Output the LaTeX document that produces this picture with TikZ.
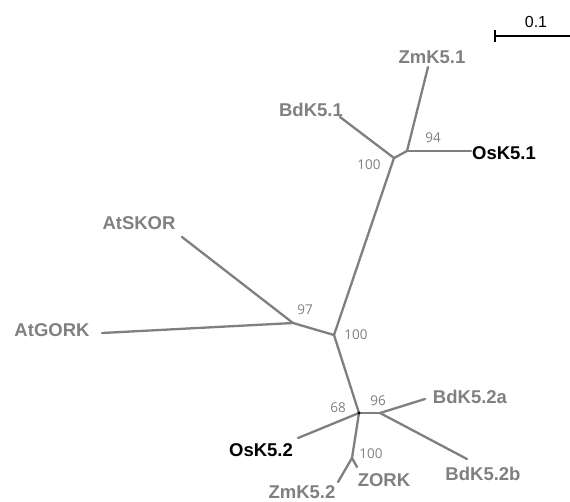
\documentclass[tikz,border=0pt]{standalone}
\usepackage{fontspec}
\setmainfont{Liberation Sans}
\newfontfamily\numfont{Open Sans}
\definecolor{branch}{HTML}{7F7F7F}
\definecolor{labgray}{HTML}{808080}
\begin{document}
\begin{tikzpicture}[x=1pt,y=-1pt,
  br/.style={draw=branch,line width=2.3pt,line cap=round},
  leaf/.style={font=\fontsize{18.5}{18.5}\selectfont\bfseries,text=labgray,inner sep=0pt,text height=13pt,text depth=0pt,anchor=center},
  leafb/.style={leaf,text=black},
  boot/.style={font=\numfont\fontsize{13.5}{13.5}\selectfont,text=labgray,inner sep=0pt,text height=9.5pt,text depth=0pt,anchor=center}]
\useasboundingbox (0,0) rectangle (570,501);
% internal nodes
\coordinate (A) at (394,158);
\coordinate (B) at (407,151);
\coordinate (C) at (293,323);
\coordinate (D) at (334,335);
\coordinate (E) at (359,413);
\coordinate (F) at (380,413);
\coordinate (G) at (352,458);
% leaf ends
\coordinate (zm1) at (428,67);
\coordinate (bd1) at (340,117);
\coordinate (os1) at (471,151);
\coordinate (skor) at (182,237);
\coordinate (gork) at (102,333);
\coordinate (bd2a) at (425,399);
\coordinate (bd2b) at (467,459);
\coordinate (os2) at (298,438);
\coordinate (zm2) at (338,482);
\coordinate (zork) at (357,467);
% branches
\draw[br] (A) -- (bd1);
\draw[br] (A) -- (B);
\draw[br] (B) -- (zm1);
\draw[br] (B) -- (os1);
\draw[br] (A) -- (D);
\draw[br] (D) -- (C);
\draw[br] (C) -- (skor);
\draw[br] (C) -- (gork);
\draw[br] (D) -- (E);
\draw[br] (E) -- (F);
\draw[br] (F) -- (bd2a);
\draw[br] (F) -- (bd2b);
\draw[br] (E) -- (os2);
\draw[br] (E) -- (G);
\draw[br] (G) -- (zm2);
\draw[br] (G) -- (zork);
\fill[black] (E) circle (1.6pt);
% leaf labels
\node[leaf] (lzm1) at (432,57) {ZmK5.1};
\node[leaf] (lbd1) at (311,110) {BdK5.1};
\node[leafb] (los1) at (504,153) {OsK5.1};
\node[leaf] (lskor) at (139,223) {AtSKOR};
\node[leaf] (lgork) at (52,330) {AtGORK};
\node[leaf] (lbd2a) at (470,397) {BdK5.2a};
\node[leaf] (lbd2b) at (483,474) {BdK5.2b};
\node[leafb] (los2) at (261,450) {OsK5.2};
\node[leaf] (lzork) at (384,480) {ZORK};
\node[leaf] (lzm2) at (302,492) {ZmK5.2};
% bootstrap values
\node[boot] (b94) at (433,138) {94};
\node[boot] (b100a) at (369,165) {100};
\node[boot] (b97) at (305,310) {97};
\node[boot] (b100b) at (356,335) {100};
\node[boot] (b68) at (338,408) {68};
\node[boot] (b96) at (378,401) {96};
\node[boot] (b100c) at (371,454) {100};
% scale bar
\coordinate (s1) at (495,36);
\coordinate (s2) at (570,36);
\coordinate (t1) at (495,30);
\coordinate (t2) at (495,42);
\draw[black,line width=1.6pt] (s1) -- (s2);
\draw[black,line width=1.6pt] (t1) -- (t2);
\node[font=\fontsize{16}{16}\selectfont,inner sep=0pt,text height=11.5pt,text depth=0pt] (sl) at (536,22) {0.1};
\end{tikzpicture}
\end{document}
